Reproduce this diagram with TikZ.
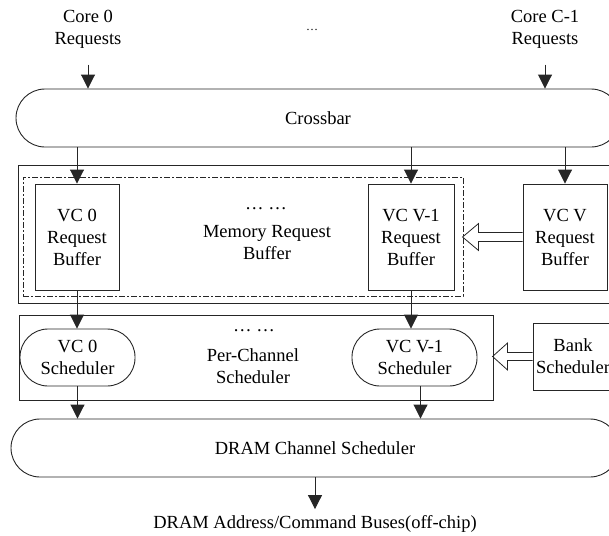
\documentclass[tikz,border=0pt]{standalone}
\usepackage{fontspec}
\setmainfont{Liberation Serif}
\usetikzlibrary{calc,arrows.meta}

\begin{document}
\begin{tikzpicture}[x=1pt,y=-1pt,
    font=\fontsize{18.5}{22}\selectfont,
    line width=0.9pt, draw=black!85,
    arr/.style={-{Triangle[width=14pt,length=14pt]}},
    buf/.style={draw, minimum width=84pt, minimum height=106pt, align=center, inner sep=0pt},
    sched/.style={draw, rounded corners=28pt, minimum height=57pt, align=center, inner sep=0pt},
    wide/.style={draw, rounded corners=29pt, minimum height=58pt, minimum width=604pt},
    lbl/.style={align=center, inner sep=0pt}]
  \useasboundingbox (0,0) rectangle (609,535);
  \clip (0,0) rectangle (609,535);

  % Requests coming from the cores
  \node[lbl] (core0) at (88,29) {Core 0\\Requests};
  \node[lbl, font=\fontsize{12}{14}\selectfont] (cdots) at (312,30) {\dots};
  \node[lbl] (corec) at (545,29) {Core C-1\\Requests};

  % The crossbar
  \node[wide] (xbar) at (318,118) {Crossbar};
  \draw[arr] ([yshift=-16pt]core0.south) -- (core0.south |- xbar.north);
  \draw[arr] ([yshift=-16pt]corec.south) -- (corec.south |- xbar.north);

  % Memory request buffer
  \node[draw, minimum width=607pt, minimum height=138pt] (mrbout) at (321.5,234) {};
  \node[draw, dash pattern=on 6pt off 2pt on 2pt off 2pt, line width=0.8pt,
        minimum width=440pt, minimum height=119pt] (mrb) at (243,236.5) {};
  \node[buf] (vc0) at (77,237) {VC 0\\Request\\Buffer};
  \node[buf, minimum width=86pt] (vcv1) at (411,237) {VC V-1\\Request\\Buffer};
  \node[buf] (vcv) at (565,237) {VC V\\Request\\Buffer};
  \node[lbl] (mdots) at (266,209) {\dots\ \dots};
  \node[lbl] (mlabel) at (267,243) {Memory Request\\Buffer};

  \foreach \b in {vc0,vcv1,vcv}
    \draw[arr] (\b.north |- xbar.south) -- (\b.north);

  % Hollow arrow from the last buffer
  \draw[line width=0.8pt] (vcv.west) ++(0,-4.5) -- ++(-44,0) -- ++(0,-9) -- ++(-16,13.5)
    -- ++(16,13.5) -- ++(0,-9) -- ++(44,0);

  % Per-channel scheduler
  \node[draw, minimum width=474pt, minimum height=85pt] (pcs) at (256,357.5) {};
  \node[sched, minimum width=115pt] (s0) at (77.5,357.5) {VC 0\\Scheduler};
  \node[sched, minimum width=125pt] (s1) at (414.5,357.5) {VC V-1\\Scheduler};
  \node[lbl] (pdots) at (254,331) {\dots\ \dots};
  \node[lbl] (plabel) at (253,366) {Per-Channel\\Scheduler};
  \node[draw, minimum width=80pt, minimum height=67pt, align=center, inner sep=0pt]
    (bank) at (573,356.5) {Bank\\Scheduler};

  \draw[arr] (vc0.south) -- (vc0.south |- s0.north);
  \draw[arr] (vcv1.south) -- (vcv1.south |- s1.north);

  % Hollow arrow from the bank scheduler
  \draw[line width=0.8pt] (bank.west) ++(0,-4) -- ++(-25,0) -- ++(0,-9.5) -- ++(-15,13.5)
    -- ++(15,13.5) -- ++(0,-9.5) -- ++(25,0);

  % DRAM channel scheduler and the off-chip buses
  \node[wide, minimum width=608pt] (dram) at (315,448) {DRAM Channel Scheduler};
  \draw[arr] (s0.south) -- (s0.south |- dram.north);
  \draw[arr] ([xshift=6pt]s1.south) -- ([xshift=6pt]s1.south |- dram.north);
  \node[lbl] (bus) at (315,524) {DRAM Address/Command Buses(off-chip)};
  \draw[arr] (dram.south) -- ([yshift=6pt]bus.north);
\end{tikzpicture}
\end{document}
